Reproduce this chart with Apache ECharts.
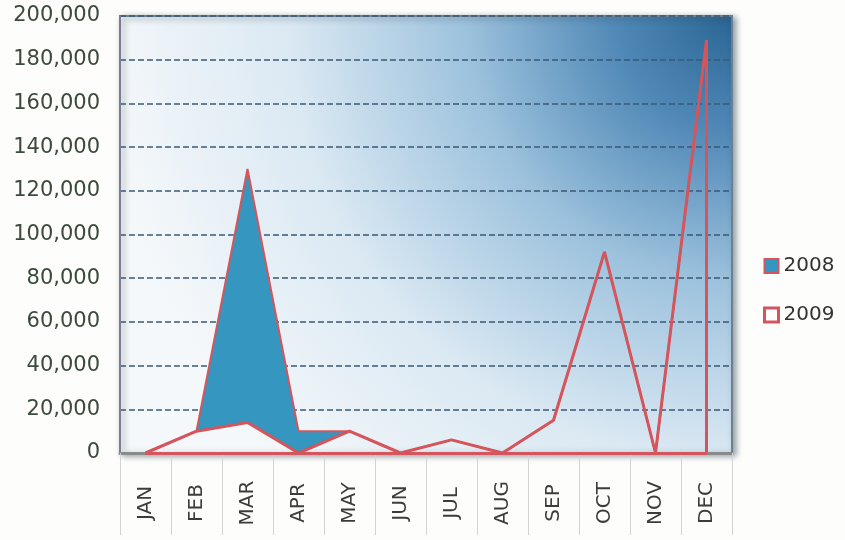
<!DOCTYPE html>
<html>
<head>
<meta charset="utf-8">
<title>Monthly 2008 / 2009</title>
<script src="https://cdn.jsdelivr.net/npm/echarts@6/dist/echarts.min.js"></script>
<style>
    html, body { margin: 0; padding: 0; background: #fdfdfc; }
    #main { width: 845px; height: 540px; }
</style>
</head>
<body>
<div id="main"></div>
<script>
// 数据
var months = ['JAN', 'FEB', 'MAR', 'APR', 'MAY', 'JUN', 'JUL', 'AUG', 'SEP', 'OCT', 'NOV', 'DEC'];
var sales2008 = [0, 10000, 130000, 10000, 10000, 0, 0, 0, 0, 0, 0, 0];
var sales2009 = [0, 10000, 14000, 0, 10000, 0, 6000, 0, 15000, 92000, 0, 189000];
var yTicks = [0, 200000, 20000]; // min, max, interval

(function () {
    let myechart = echarts.init(document.getElementById('main'));

    // 2008 is drawn behind 2009 in the original, so only the part above the 2009 line shows
    let shown2008 = sales2008.map(function (v, i) {
        return Math.max(0, v - sales2009[i]);
    });

    let red = '#d5555c';
    let blue = '#3596c0';
    let font = 'DejaVu Sans';

    var option = {
        animation: false,
        grid: {
            left: 120,
            right: 113,
            top: 16,
            bottom: 87,
            show: true,
            borderColor: '#6f7f8e',
            borderWidth: 2,
            shadowColor: 'rgba(40,60,80,0.5)',
            shadowBlur: 6,
            shadowOffsetX: 3,
            shadowOffsetY: 2,
            // 右上角深蓝，向左下渐白
            backgroundColor: new echarts.graphic.RadialGradient(1, 0, 1.45, [
                { offset: 0, color: '#2a6593' },
                { offset: 0.18, color: '#4f88b6' },
                { offset: 0.42, color: '#9dc2dd' },
                { offset: 0.7, color: '#dbe9f3' },
                { offset: 1, color: '#f5f8fa' }
            ])
        },
        legend: {
            orient: 'vertical',
            left: 758,
            top: 251,
            itemGap: 29,
            itemWidth: 14,
            itemHeight: 14,
            textStyle: { fontFamily: font, fontSize: 20, color: '#333' },
            data: [
                { name: '2008', icon: 'rect', itemStyle: { color: blue, borderColor: red, borderWidth: 2 } },
                { name: '2009', icon: 'rect', itemStyle: { color: '#fff', borderColor: red, borderWidth: 3 } }
            ]
        },
        xAxis: {
            type: 'category',
            data: months,
            boundaryGap: true,
            axisLine: { lineStyle: { color: '#8a8a8a', width: 3 } },
            axisTick: { show: true, length: 82, lineStyle: { color: '#d4d4d4', width: 1 } },
            axisLabel: {
                rotate: 90,
                align: 'center',
                verticalAlign: 'middle',
                margin: 50,
                fontFamily: font,
                fontSize: 20,
                color: '#3c3c3c'
            }
        },
        yAxis: {
            type: 'value',
            min: yTicks[0],
            max: yTicks[1],
            interval: yTicks[2],
            axisLine: { show: true, lineStyle: { color: '#7d7a92', width: 2 } },
            axisTick: { show: false },
            axisLabel: {
                margin: 20,
                fontFamily: font,
                fontSize: 21,
                color: '#3b4a3c',
                formatter: function (v) { return v.toLocaleString('en-US'); }
            },
            splitLine: {
                lineStyle: { color: '#3a5a74', type: [6, 3], width: 1.6 }
            }
        },
        series: [
            {
                name: '2009',
                type: 'line',
                stack: 'total',
                data: sales2009,
                symbol: 'none',
                itemStyle: { color: red },
                lineStyle: { color: red, width: 3 },
                z: 3,
                markLine: {
                    silent: true,
                    symbol: 'none',
                    label: { show: false },
                    lineStyle: { color: red, width: 3, type: 'solid' },
                    data: [
                        [{ coord: [0, 0] }, { coord: [11, 0] }],
                        [{ coord: [11, 0] }, { coord: [11, sales2009[11]] }]
                    ]
                }
            },
            {
                name: '2008',
                type: 'line',
                stack: 'total',
                data: shown2008,
                symbol: 'none',
                itemStyle: { color: blue },
                lineStyle: { color: red, width: 2 },
                areaStyle: { color: blue, opacity: 1 },
                z: 2
            }
        ]
    };

    myechart.setOption(option);
    window.addEventListener('resize', function () {
        myechart.resize();
    });
})();
</script>
</body>
</html>
